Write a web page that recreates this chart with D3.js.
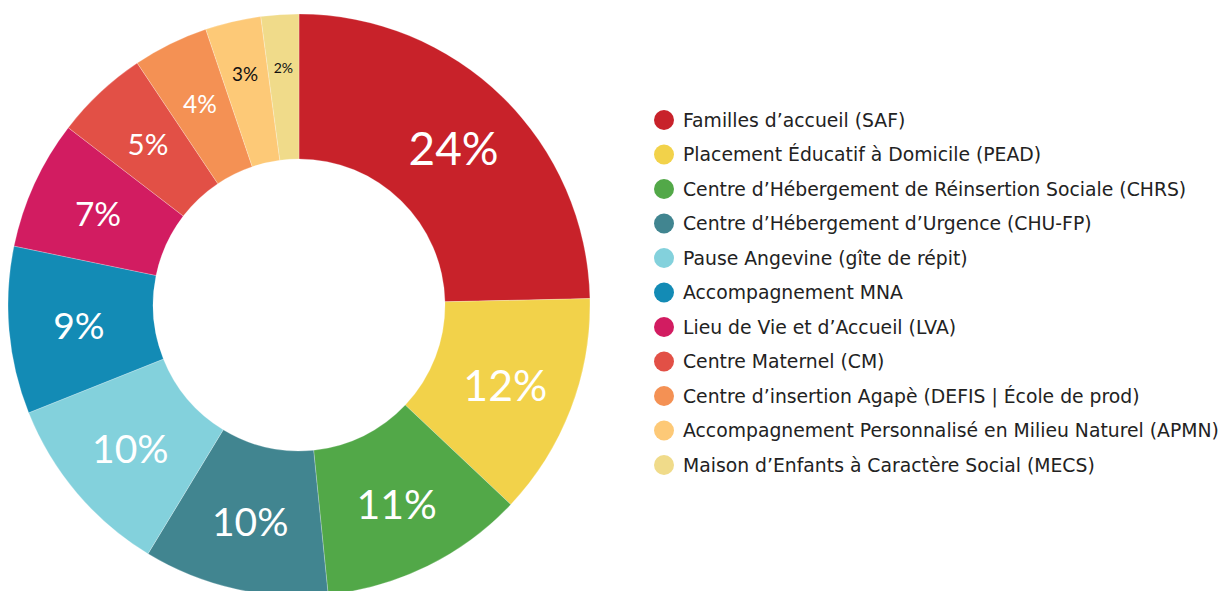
<!DOCTYPE html>
<html>
<head>
<meta charset="utf-8">
<script src="https://cdn.jsdelivr.net/npm/d3@7"></script>
<style>
  html, body { margin: 0; padding: 0; background: #fff; }
  svg { display: block; }
</style>
</head>
<body>
<div id="chart"></div>
<script>
const categories = [
  'Familles d’accueil (SAF)',
  'Placement Éducatif à Domicile (PEAD)',
  'Centre d’Hébergement de Réinsertion Sociale (CHRS)',
  'Centre d’Hébergement d’Urgence (CHU-FP)',
  'Pause Angevine (gîte de répit)',
  'Accompagnement MNA',
  'Lieu de Vie et d’Accueil (LVA)',
  'Centre Maternel (CM)',
  'Centre d’insertion Agapè (DEFIS | École de prod)',
  'Accompagnement Personnalisé en Milieu Naturel (APMN)',
  'Maison d’Enfants à Caractère Social (MECS)',
];
const shares = [24.7, 12.4, 11.4, 10.3, 10.3, 9.3, 7.2, 5.2, 4.2, 3.1, 2.1];
const colors = [
  '#c8222a', '#f2d24a', '#52a848', '#418590', '#83d1dc', '#138bb5',
  '#d21c61', '#e25046', '#f49154', '#fdc977', '#f0db8a',
];

const width = 1231;
const height = 591;
const center = { x: 299, y: 305 };
const outerR = 291;
const innerR = 146;
const legend = { x: 664, y: 120, step: 34.5, dot: 10, gap: 19 };

const svg = d3.select('#chart')
  .append('svg')
  .attr('width', width)
  .attr('height', height);

const total = d3.sum(shares);
const pie = d3.pie().sort(null).value(d => d.value);
const arcs = pie(shares.map((value, i) => ({ value, name: categories[i], color: colors[i] })));

const arc = d3.arc().innerRadius(innerR).outerRadius(outerR);
const deg = d => (d.endAngle - d.startAngle) * 180 / Math.PI;

// label size grows with the slice's angle, capped for big slices
const fontSize = d3.scaleLinear()
  .domain([7.7, 19, 45, 90])
  .range([14, 30, 43, 46])
  .clamp(true);
// thin slices push their label outward, where there is more room
const labelRadius = d3.scaleLinear()
  .domain([11, 16])
  .range([238, 221])
  .clamp(true);

const labelPos = d => {
  const r = labelRadius(deg(d));
  return d3.arc().innerRadius(r).outerRadius(r).centroid(d);
};

const donut = svg.append('g')
  .attr('transform', `translate(${center.x}, ${center.y})`);

donut.selectAll('path')
  .data(arcs)
  .enter()
  .append('path')
  .attr('d', arc)
  .attr('fill', d => d.data.color)
  .attr('stroke', '#fff')
  .attr('stroke-width', 0.4)
  .attr('stroke-opacity', 0.6);

donut.selectAll('text')
  .data(arcs)
  .enter()
  .append('text')
  .attr('transform', d => `translate(${labelPos(d)})`)
  .attr('text-anchor', 'middle')
  .attr('dominant-baseline', 'central')
  .style('font-family', 'Lato, "Open Sans", sans-serif')
  .style('font-weight', 400)
  .style('font-size', d => fontSize(deg(d)) + 'px')
  .attr('fill', d => d3.hsl(d.data.color).l > 0.7 ? '#111' : '#fff')
  .text(d => Math.floor(d.data.value / total * 100) + '%');

const items = svg.append('g')
  .selectAll('g')
  .data(arcs)
  .enter()
  .append('g')
  .attr('transform', (d, i) => `translate(${legend.x}, ${legend.y + i * legend.step})`);

items.append('circle')
  .attr('r', legend.dot)
  .attr('fill', d => d.data.color);

items.append('text')
  .attr('x', legend.gap)
  .attr('dominant-baseline', 'central')
  .style('font-family', '"DejaVu Sans", sans-serif')
  .style('font-size', '18.8px')
  .attr('fill', '#222')
  .text(d => d.data.name);
</script>
</body>
</html>
